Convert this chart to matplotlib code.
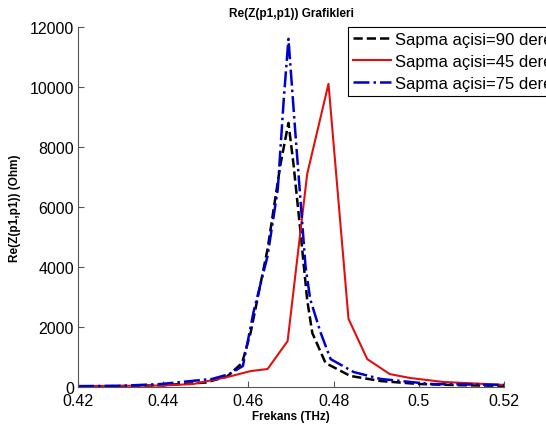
import matplotlib
matplotlib.use("Agg")
import matplotlib.pyplot as plt

plt.rcParams['font.family'] = ['Liberation Sans', 'DejaVu Sans']

# Sapma acisi = 90 derece
f90 = [0.42, 0.43, 0.44, 0.45, 0.455, 0.4585, 0.4605, 0.4645, 0.4675, 0.4694,
       0.4706, 0.4722, 0.4738, 0.4750, 0.4781, 0.4839, 0.491, 0.50, 0.51, 0.52]
z90 = [20, 30, 60, 150, 350, 800, 1800, 4600, 7400, 8800,
       7400, 5200, 2900, 1800, 800, 370, 200, 100, 60, 40]

# Sapma acisi = 45 derece
f45 = [0.42, 0.43, 0.44, 0.447, 0.455, 0.4605, 0.4645, 0.4692, 0.4738, 0.4788,
       0.4835, 0.4879, 0.4932, 0.498, 0.5057, 0.52]
z45 = [30, 40, 50, 100, 330, 530, 600, 1530, 7100, 10100,
       2270, 930, 430, 300, 170, 70]

# Sapma acisi = 75 derece
f75 = [0.42, 0.43, 0.4395, 0.4515, 0.4555, 0.4587, 0.4612, 0.4645, 0.4669, 0.4683, 0.4694,
       0.4710, 0.4722, 0.4734, 0.4745, 0.4769, 0.4793, 0.4847, 0.491, 0.5028, 0.52]
z75 = [30, 40, 100, 270, 430, 700, 2500, 4370, 6600, 9600, 11600,
       8500, 6270, 4030, 2930, 1830, 930, 500, 270, 100, 70]

fig = plt.figure(figsize=(5.46, 4.35), dpi=100)
ax = fig.add_axes([0.143, 0.108, 0.780, 0.828])

ax.plot(f90, z90, color='black', linestyle='--', linewidth=1.8, label='Sapma açisi=90 derece')
ax.plot(f45, z45, color='#e01010', linestyle='-', linewidth=1.5, label='Sapma açisi=45 derece')
ax.plot(f75, z75, color='#0000cc', linestyle='-.', linewidth=1.8, label='Sapma açisi=75 derece')

ax.set_xlim(0.42, 0.52)
ax.set_ylim(0, 12000)
ax.set_xticks([0.42, 0.44, 0.46, 0.48, 0.5, 0.52])
ax.set_xticklabels(['0.42', '0.44', '0.46', '0.48', '0.5', '0.52'])
ax.set_yticks([0, 2000, 4000, 6000, 8000, 10000, 12000])
ax.tick_params(direction='in', labelsize=11.5, length=4, color='#555555')
ax.tick_params(axis='x', pad=4)
ax.tick_params(axis='y', pad=3)
ax.spines['top'].set_visible(False)
ax.spines['right'].set_visible(False)
for s in ['left', 'bottom']:
    ax.spines[s].set_color('#555555')

ax.set_title('Re(Z(p1,p1)) Grafikleri', fontsize=8.5, fontweight='bold', pad=8)
ax.set_xlabel('Frekans (THz)', fontsize=8.5, fontweight='bold', labelpad=2)
ax.set_ylabel('Re(Z(p1,p1)) (Ohm)', fontsize=8.5, fontweight='bold', labelpad=6)

leg = ax.legend(loc='upper left', bbox_to_anchor=(0.634, 1.0), borderaxespad=0,
                fontsize=12, handlelength=2.3, handletextpad=0.2, labelspacing=0.42,
                fancybox=False, framealpha=1, edgecolor='black', borderpad=0.3)
leg.get_frame().set_linewidth(0.8)

fig.savefig('out.png', dpi=100)
